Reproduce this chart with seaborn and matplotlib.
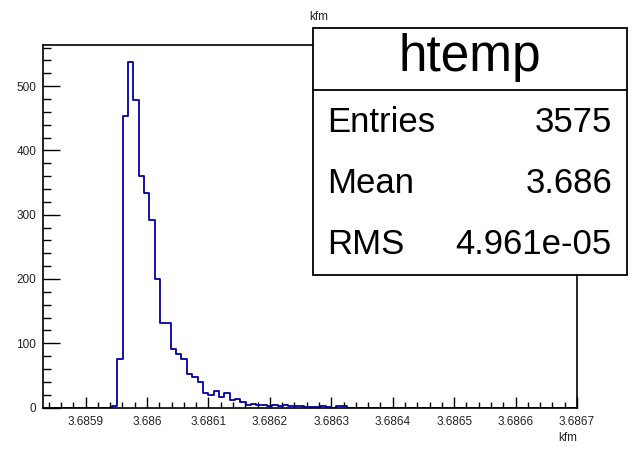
import numpy as np
import pandas as pd
import matplotlib
matplotlib.use("Agg")
import matplotlib.pyplot as plt
from matplotlib.patches import Rectangle
from matplotlib.lines import Line2D
from matplotlib.ticker import MultipleLocator, AutoMinorLocator, FixedLocator, FuncFormatter
import seaborn as sns

# ---- data (ROOT htemp, 100 bins) ----
x_min = 3.68583
x_max = 3.68670
n_bins = 100
counts = [0] * 13 + [
    2, 75, 453, 537, 478, 360, 334, 291, 200, 132,
    131, 91, 83, 75, 52, 48, 40, 23, 19, 26,
    17, 23, 12, 13, 8, 4, 5, 4, 4, 3,
    4, 3, 4, 3, 3, 3, 1, 1, 1, 2,
    1, 0, 2, 2,
]
counts = counts + [0] * (n_bins - len(counts))
x_ticks = [3.6859, 3.6860, 3.6861, 3.6862, 3.6863, 3.6864, 3.6865, 3.6866, 3.6867]
y_ticks = [0, 100, 200, 300, 400, 500]
y_max = 564
title = "kfm"
x_label = "kfm"
stats_name = "htemp"
stats_rows = [("Entries", "3575"), ("Mean", "3.686"), ("RMS", "4.961e-05")]

sns.set_style("ticks")
plt.rcParams["font.family"] = ["Liberation Sans", "DejaVu Sans"]
plt.rcParams["text.color"] = "black"

W, H = 637, 450
fig = plt.figure(figsize=(W / 100, H / 100), dpi=100)
L, R, T, B = 42.5, 577, 45, 407.5
ax = fig.add_axes([L / W, 1 - B / H, (R - L) / W, (B - T) / H])

edges = np.linspace(x_min, x_max, n_bins + 1)
centers = 0.5 * (edges[:-1] + edges[1:])
df = pd.DataFrame({"x": centers, "w": np.asarray(counts, dtype=float)})
sns.histplot(data=df, x="x", weights="w", bins=n_bins, binrange=(x_min, x_max),
             element="step", fill=False, color="#0000a0", linewidth=1.3, ax=ax)

ax.set_xlim(x_min, x_max)
ax.set_ylim(0, y_max)
ax.set_xlabel("")
ax.set_ylabel("")

ax.xaxis.set_major_locator(FixedLocator(x_ticks))
ax.xaxis.set_minor_locator(AutoMinorLocator(5))
ax.xaxis.set_major_formatter(FuncFormatter(lambda v, p: f"{v:.4f}".rstrip("0").rstrip(".")))
ax.yaxis.set_major_locator(FixedLocator(y_ticks))
ax.yaxis.set_minor_locator(MultipleLocator(20))

ax.tick_params(which="both", direction="in", top=False, right=False,
               color="black", width=1, labelsize=8.5, labelcolor="#222222")
ax.tick_params(axis="x", which="major", length=8, pad=6)
ax.tick_params(axis="x", which="minor", length=4)
ax.tick_params(axis="y", which="major", length=12, pad=4.5)
ax.tick_params(axis="y", which="minor", length=6)
for s in ax.spines.values():
    s.set_visible(True)
    s.set_color("black")
    s.set_linewidth(1.2)

fig.text(0.5, 1 - 17 / H, title, ha="center", va="center", fontsize=8.5, color="#222222")
fig.text(R / W, 1 - 438 / H, x_label, ha="right", va="center", fontsize=8.5, color="#222222")

# stats box
bx0, bx1, by0, by1 = 313, 627, 28, 275
fig.add_artist(Rectangle((bx0 / W, 1 - by1 / H), (bx1 - bx0) / W, (by1 - by0) / H,
                         transform=fig.transFigure, facecolor="white",
                         edgecolor="black", linewidth=1.3, zorder=10))
fig.add_artist(Line2D([bx0 / W, bx1 / W], [1 - 90 / H, 1 - 90 / H],
                      transform=fig.transFigure, color="black", linewidth=1.3, zorder=11))
fig.text((bx0 + bx1) / 2 / W, 1 - 58 / H, stats_name, ha="center", va="center",
         fontsize=37, zorder=12)
row_y = [122, 183, 244]
for (k, v), yy in zip(stats_rows, row_y):
    fig.text(327 / W, 1 - yy / H, k, ha="left", va="center", fontsize=25, zorder=12)
    fig.text(612 / W, 1 - yy / H, v, ha="right", va="center", fontsize=25, zorder=12)

fig.savefig("out.png", dpi=100)
